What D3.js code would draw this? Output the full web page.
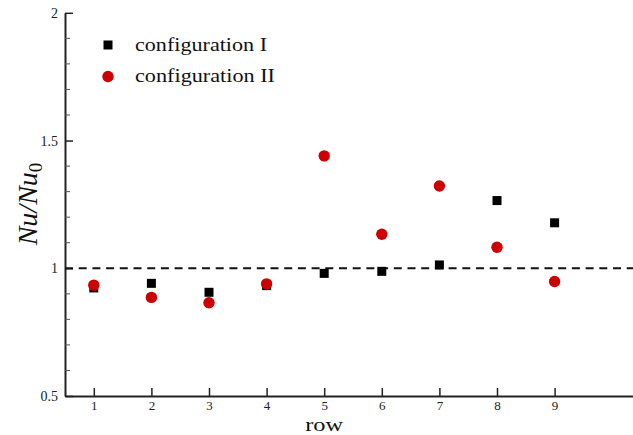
<!DOCTYPE html>
<html><head><meta charset="utf-8">
<script src="https://cdn.jsdelivr.net/npm/d3@7"></script>
<style>body{margin:0;background:#fff}svg{display:block}</style>
</head><body>
<script>
const rows = [1,2,3,4,5,6,7,8,9];
const configI  = [0.923,0.941,0.906,0.932,0.980,0.988,1.013,1.265,1.178];
const configII = [0.934,0.886,0.865,0.939,1.440,1.133,1.322,1.082,0.948];
const yMajor = [0.5,1,1.5,2];
const yMajorLabels = ["0.5","1","1.5","2"];
const seriesNames = ["configuration I","configuration II"];

const W = 633, H = 435;
const svg = d3.select("body").append("svg").attr("width",W).attr("height",H);
const font = "'Liberation Serif', 'DejaVu Serif', serif";

const x = d3.scaleLinear().domain([0.5,10.5]).range([65, 641]);
const y = d3.scaleLinear().domain([0.5,2]).range([396, 12.8]);

// y axis
const yAxis = d3.axisLeft(y).tickValues(yMajor).tickFormat((d,i)=>yMajorLabels[i]).tickSizeInner(-8).tickSizeOuter(0).tickPadding(5);
const gy = svg.append("g").attr("transform",`translate(${x(0.5)},0)`).call(yAxis);
gy.select(".domain").attr("stroke","#222").attr("stroke-width",2);
gy.selectAll(".tick line").attr("stroke","#222").attr("stroke-width",1.5);
gy.selectAll(".tick text").attr("font-family",font).attr("font-size",14).attr("fill","#222").attr("x",-7);
const yMinor = d3.range(0.6,2.0,0.1).filter(v=>Math.abs((v*2)-Math.round(v*2))>1e-6);
svg.append("g").selectAll("line").data(yMinor).join("line")
  .attr("x1",x(0.5)).attr("x2",x(0.5)+5).attr("y1",d=>y(d)).attr("y2",d=>y(d))
  .attr("stroke","#555").attr("stroke-width",1);

// x axis
const xAxis = d3.axisBottom(x).tickValues(rows).tickFormat(d3.format("d")).tickSizeInner(-8).tickSizeOuter(0).tickPadding(6);
const gx = svg.append("g").attr("transform",`translate(0,${y(0.5)})`).call(xAxis);
gx.select(".domain").attr("stroke","#222").attr("stroke-width",2);
gx.selectAll(".tick line").attr("stroke","#222").attr("stroke-width",1.5);
gx.selectAll(".tick text").attr("font-family",font).attr("font-size",13).attr("fill","#222").attr("y",14).attr("dy","0");

// reference line
svg.append("line").attr("x1",x(0.5)).attr("x2",W).attr("y1",y(1)).attr("y2",y(1))
  .attr("stroke","#111").attr("stroke-width",2).attr("stroke-dasharray","8,5.7");

// series I squares
const s = 9;
svg.append("g").selectAll("rect").data(rows).join("rect")
  .attr("x",(d,i)=>x(d)-s/2).attr("y",(d,i)=>y(configI[i])-s/2)
  .attr("width",s).attr("height",s).attr("fill","#000");
// series II circles
svg.append("g").selectAll("circle").data(rows).join("circle")
  .attr("cx",d=>x(d)).attr("cy",(d,i)=>y(configII[i])).attr("r",5.7).attr("fill","#cc0000");

// legend
const lg = svg.append("g");
lg.append("rect").attr("x",108-s/2).attr("y",45-s/2).attr("width",s).attr("height",s).attr("fill","#000");
lg.append("circle").attr("cx",108).attr("cy",76.5).attr("r",5.7).attr("fill","#cc0000");
lg.append("text").attr("x",135).attr("y",51).attr("textLength",132).text(seriesNames[0]);
lg.append("text").attr("x",135).attr("y",82).attr("textLength",140).text(seriesNames[1]);
lg.selectAll("text").attr("font-family",font).attr("font-size",19.5).attr("fill","#111").attr("lengthAdjust","spacingAndGlyphs");

// axis titles
svg.append("text").attr("x",x(5)).attr("y",430.5).attr("text-anchor","middle")
  .attr("font-family",font).attr("font-size",19.5).attr("fill","#111").attr("textLength",38).attr("lengthAdjust","spacingAndGlyphs").text("row");
const yt = svg.append("text").attr("transform","translate(37,204) rotate(-90)").attr("text-anchor","middle")
  .attr("font-family",font).attr("font-size",28).attr("fill","#111").attr("font-style","italic");
yt.append("tspan").text("Nu/Nu");
yt.append("tspan").attr("font-style","normal").attr("font-size",19).attr("dy",5).text("0");
</script>
</body></html>
